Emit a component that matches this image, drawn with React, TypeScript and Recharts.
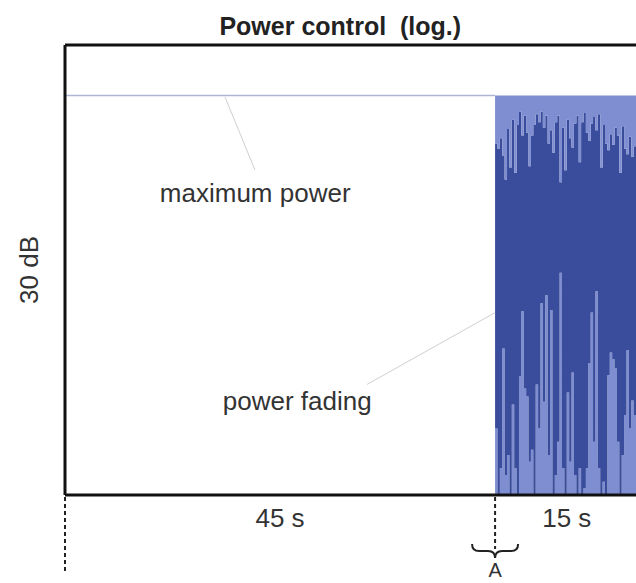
import { ComposedChart, Area, XAxis, YAxis, ReferenceLine, ReferenceDot } from 'recharts';

const maxPower = 30;
const fadeStart = 45;
const fadeEnd = 60;
const fadeStep = 0.25;
const xMax = 61;
const yMax = 33.8;

// light streaks rising from the floor (dB)
const fadeLow = [
  5, 0, 2, 11, 1.5, 3, 0, 6.8, 2, 0, 8.9, 13.8, 8, 7.4, 2.5, 3.4, 0, 8.3, 5, 14.4,
  7, 15, 3, 13.9, 0, 1.5, 4, 16.7, 2, 0, 7.7, 2.5, 9.2, 1.5, 0, 2, 0, 0.5, 2, 9.9,
  13.7, 4, 15.3, 2, 0, 1, 0, 9, 10.7, 10.2, 9.5, 4, 0, 3, 6, 10.9, 5, 7.1, 6, 3,
];
// light dips hanging below maximum power (dB)
const fadeTop = [
  3.6, 4.0, 3.2, 4.5, 6.3, 2.5, 5.4, 1.8, 5.8, 2.2, 1.2, 3.0, 1.5, 2.8, 5.3, 3.0, 2.2, 1.4, 2.0, 1.2,
  2.4, 1.5, 3.6, 2.6, 4.3, 2.0, 1.5, 6.5, 2.4, 5.6, 1.8, 3.2, 3.9, 2.1, 1.5, 5.0, 2.0, 1.3, 2.8, 3.4,
  2.1, 1.6, 2.6, 1.4, 5.4, 2.2, 3.6, 4.1, 2.9, 3.7, 2.4, 3.0, 5.8, 2.3, 4.0, 4.4, 3.1, 4.6, 3.8, 4.2,
];

const labelTicks = [22.5, 52.5];
const tickLabels = ['45 s', '15 s'];
const markerTicks = [0, 45];
const markerLabels = ['', 'A'];

const data = fadeLow.map((low, i) => ({
  t: fadeStart + i * fadeStep,
  low,
  mid: maxPower - low - fadeTop[i],
  top: fadeTop[i],
}));
data.push({ ...data[data.length - 1], t: fadeEnd });

const DARK = '#3a4d9c';
const LIGHT = '#7e8ed0';
const TEXT = '#333';

const AxisTick = (props: any) => {
  const { x, y, payload } = props;
  const v = payload.value;
  const li = labelTicks.indexOf(v);
  if (li >= 0) {
    return (
      <text x={x} y={y + 30} textAnchor="middle" fontSize={26} fill={TEXT}>
        {tickLabels[li]}
      </text>
    );
  }
  const name = markerLabels[markerTicks.indexOf(v)];
  return (
    <g>
      <line x1={x} y1={y} x2={x} y2={y + (name ? 52 : 76)} stroke="#222" strokeWidth={2} strokeDasharray="4 3" />
      {name && (
        <>
          <path
            d={`M${x - 23},${y + 47} q0,7 7,7 h9 q7,0 7,7 q0,-7 7,-7 h9 q7,0 7,-7`}
            fill="none"
            stroke="#222"
            strokeWidth={2}
          />
          <text x={x} y={y + 80} textAnchor="middle" fontSize={20} fill={TEXT}>
            {name}
          </text>
        </>
      )}
    </g>
  );
};

export default function App() {
  return (
    <div style={{ fontFamily: '"Liberation Sans", Arial, sans-serif', width: 636, height: 583, overflow: 'hidden' }}>
      <style>{'body{margin:0;overflow:hidden}'}</style>
      <ComposedChart width={648} height={583} data={data} margin={{ top: 45, right: 0, bottom: 8, left: 0 }}>
        <XAxis
          dataKey="t"
          type="number"
          domain={[0, xMax]}
          ticks={[...markerTicks, ...labelTicks]}
          interval={0}
          tick={<AxisTick />}
          tickLine={false}
          tickSize={0}
          height={80}
          axisLine={{ stroke: '#111', strokeWidth: 3 }}
          allowDataOverflow
        />
        <YAxis
          type="number"
          domain={[0, yMax]}
          width={65}
          tick={false}
          tickLine={false}
          axisLine={{ stroke: '#111', strokeWidth: 3 }}
          allowDataOverflow
          label={{
            value: '30 dB',
            angle: -90,
            position: 'insideLeft',
            offset: 29,
            fontSize: 26,
            fill: TEXT,
            style: { textAnchor: 'middle' },
          }}
        />
        <ReferenceLine y={yMax} stroke="#111" strokeWidth={3} ifOverflow="visible" />
        <Area type="stepAfter" dataKey="low" stackId="p" stroke="none" fill={LIGHT} fillOpacity={1} isAnimationActive={false} />
        <Area type="stepAfter" dataKey="mid" stackId="p" stroke="none" fill={DARK} fillOpacity={1} isAnimationActive={false} />
        <Area type="stepAfter" dataKey="top" stackId="p" stroke="none" fill={LIGHT} fillOpacity={1} isAnimationActive={false} />
        <ReferenceLine
          segment={[{ x: 0, y: maxPower }, { x: fadeStart, y: maxPower }]}
          stroke="#aeb4d4"
          strokeWidth={1.5}
        />
        <ReferenceLine segment={[{ x: 16.74, y: 29.9 }, { x: 19.88, y: 24.4 }]} stroke="#cfcfcf" strokeWidth={1} />
        <ReferenceLine segment={[{ x: 45, y: 13.7 }, { x: 31.6, y: 8.3 }]} stroke="#cfcfcf" strokeWidth={1} />
        <ReferenceDot
          x={28.8}
          y={35.2}
          r={0}
          fill="none"
          stroke="none"
          ifOverflow="visible"
          label={{ value: 'Power control\u00a0\u00a0(log.)', position: 'center', fontSize: 25, fontWeight: 'bold', fill: '#222' }}
        />
        <ReferenceDot
          x={19.9}
          y={22.7}
          r={0}
          fill="none"
          stroke="none"
          label={{ value: 'maximum power', position: 'center', fontSize: 26, fill: TEXT }}
        />
        <ReferenceDot
          x={24.3}
          y={7.06}
          r={0}
          fill="none"
          stroke="none"
          label={{ value: 'power fading', position: 'center', fontSize: 26, fill: TEXT }}
        />
      </ComposedChart>
    </div>
  );
}
